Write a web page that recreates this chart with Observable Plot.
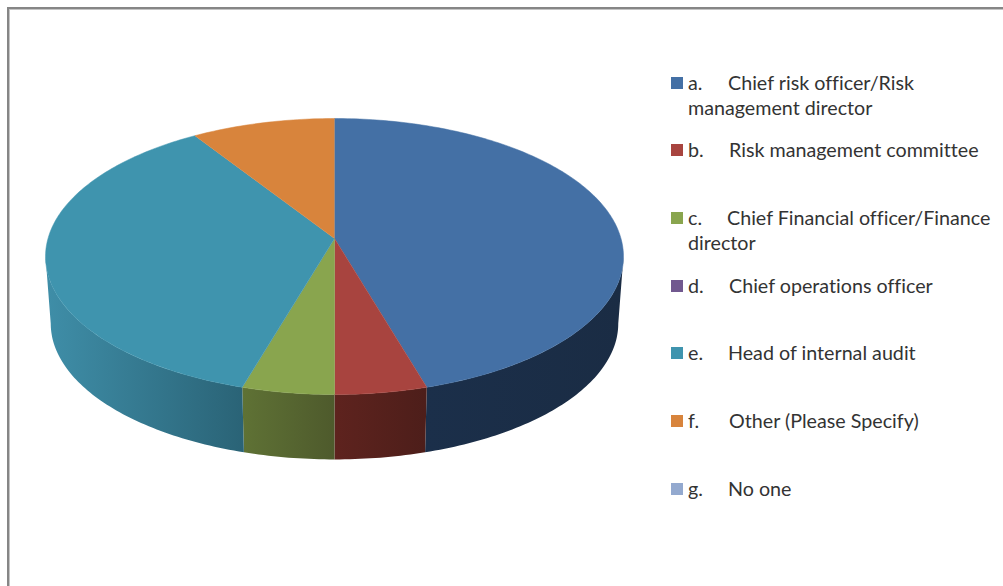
<!DOCTYPE html>
<html>
<head>
<meta charset="utf-8">
<script src="https://cdn.jsdelivr.net/npm/d3@7"></script>
<script src="https://cdn.jsdelivr.net/npm/@observablehq/plot@0.6"></script>
<style>
  html, body { margin: 0; padding: 0; background: #fff; overflow: hidden; }
  #page { position: relative; width: 1003px; height: 586px; overflow: hidden; }
  #frame { position: absolute; left: 7px; top: 7px; width: 1100px; height: 700px; box-sizing: border-box;
           border: 2px solid #868686; box-shadow: inset 1px 1px 0 #c4c4c4; }
  #chart { position: absolute; left: 0; top: 0; }
  #chart svg { display: block; background: none; }
  .row { position: absolute; left: 688px; font: 19.7px/25px Lato, sans-serif; font-variant-ligatures: none; color: #333; white-space: nowrap; }
  .row .swatch { position: absolute; left: -17px; top: 7px; width: 12px; height: 12px; }
  .row .name { position: absolute; top: 0; }
  .row .more { position: absolute; left: 0; top: 25px; }
</style>
</head>
<body>
<div id="page">
  <div id="frame"></div>
  <div id="chart"></div>
  <div id="legend"></div>
</div>
<script>
// Survey answers: who is responsible for risk oversight
const letters = ["a.", "b.", "c.", "d.", "e.", "f.", "g."];
const firstLines = [
  "Chief risk officer/Risk",
  "Risk management committee",
  "Chief Financial officer/Finance",
  "Chief operations officer",
  "Head of internal audit",
  "Other (Please Specify)",
  "No one"
];
const secondLines = ["management director", "", "director", "", "", "", ""];
const responses = [10, 1, 1, 0, 8, 2, 0];
const topColors = ["#4470a5", "#a8443f", "#89a54e", "#71588f", "#3f94ae", "#d8843c", "#93a9cf"];
const wallLeft = ["#1b2f4a", "#5e231e", "#5f7235", "#3a2d4a", "#3f8ea8", "#8a5022", "#5a6a85"];
const wallRight = ["#1a2c44", "#4d1e1a", "#4e5a2c", "#3a2d4a", "#2a6376", "#8a5022", "#5a6a85"];
const nameOffsets = [40, 41, 39, 41, 40, 41, 40];

// Perspective view of the disc: centre, half width, depth and foreshortening
const cx = 334, cy = 238, halfWidth = 286.5, halfDepth = 135.65, persp = 0.1304;
// Lower rim of the disc, relative to the upper rim
const rimCy = 256, lowerCy = 323, lowerX = 0.982, lowerY = 0.985;
// The wall shows only between the two outermost points of the rim
const wallStart = Math.acos(-persp), wallEnd = 2 * Math.PI - wallStart;

function upper(angle) {
  const s = 1 + persp * Math.cos(angle);
  return [cx + halfWidth * Math.sin(angle) / s, cy - halfDepth * Math.cos(angle) / s];
}
function lower(angle) {
  const [x, y] = upper(angle);
  return [cx + (x - cx) * lowerX, lowerCy + (y - rimCy) * lowerY];
}
function arcAngles(a0, a1) {
  return d3.range(0, 1.0001, 1 / Math.max(2, Math.ceil((a1 - a0) * 60))).map((t) => a0 + (a1 - a0) * t);
}

const slices = d3.pie().sort(null).startAngle(0).endAngle(2 * Math.PI)(responses)
  .map((d, i) => ({ ...d, i, letter: letters[i] }))
  .filter((d) => d.value > 0);

const faces = slices.flatMap((d) => [
  { x: cx, y: cy, letter: d.letter },
  ...arcAngles(d.startAngle, d.endAngle).map((a) => {
    const [x, y] = upper(a);
    return { x, y, letter: d.letter };
  })
]);

const wallMarks = slices
  .filter((d) => d.endAngle > wallStart && d.startAngle < wallEnd)
  .map((d) => {
    const angles = arcAngles(Math.max(d.startAngle, wallStart), Math.min(d.endAngle, wallEnd));
    const outline = [...angles.map(upper), ...angles.slice().reverse().map(lower)];
    return Plot.line(outline, { x: "0", y: "1", fill: `url(#wall-${d.i})`, stroke: "none" });
  });

const chart = Plot.plot({
  width: 1003,
  height: 586,
  margin: 0,
  x: { domain: [0, 1003], range: [0, 1003], axis: null },
  y: { domain: [0, 586], range: [0, 586], axis: null },
  color: { domain: letters, range: topColors },
  style: { background: "none" },
  marks: [
    ...wallMarks,
    Plot.line(faces, { x: "x", y: "y", z: "letter", fill: "letter", stroke: "letter", strokeWidth: 0.5 })
  ]
});

// Side wall shading runs left to right across each slice
const defs = d3.select(chart).insert("defs", ":first-child");
slices.forEach((d) => {
  const g = defs.append("linearGradient").attr("id", `wall-${d.i}`).attr("x1", 0).attr("x2", 1).attr("y1", 0).attr("y2", 0);
  g.append("stop").attr("offset", 0).attr("stop-color", wallLeft[d.i]);
  g.append("stop").attr("offset", 1).attr("stop-color", wallRight[d.i]);
});
document.getElementById("chart").append(chart);

// Legend rows
const legend = d3.select("#legend");
letters.forEach((letter, i) => {
  const row = legend.append("div").attr("class", "row").style("top", `${69.5 + i * 67.7}px`);
  row.append("span").attr("class", "swatch").style("background", topColors[i]);
  row.append("span").text(letter);
  row.append("span").attr("class", "name").style("left", `${nameOffsets[i]}px`).text(firstLines[i]);
  if (secondLines[i]) row.append("span").attr("class", "more").text(secondLines[i]);
});
</script>
</body>
</html>
